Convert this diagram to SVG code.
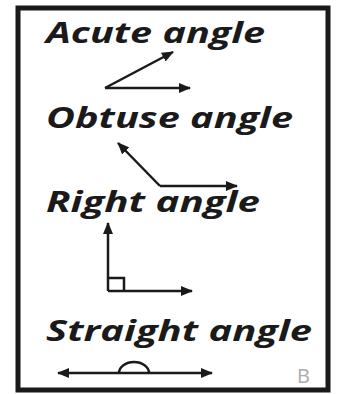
<svg xmlns="http://www.w3.org/2000/svg" width="338" height="394" viewBox="0 0 338 394">
<style>
.t{font-family:"Open Sans","Noto Sans",sans-serif;font-weight:bold;font-style:italic;font-size:28px;fill:#1a1a1a}
.l{stroke:#1a1a1a;stroke-width:2.5;fill:none}
</style>
<defs>
<marker id="ah" viewBox="0 0 12 10" refX="11" refY="5" markerWidth="12" markerHeight="10" markerUnits="userSpaceOnUse" orient="auto-start-reverse">
<path d="M0,0 L12,5 L0,10 Z" fill="#1a1a1a"/>
</marker>
</defs>
<rect x="0" y="0" width="338" height="394" fill="#fff"/>
<rect id="frame" x="18" y="8" width="310" height="382" fill="none" stroke="#1a1a1a" stroke-width="5"/>
<g id="acute">
<text class="t" x="46" y="43" textLength="219" lengthAdjust="spacingAndGlyphs">Acute angle</text>
</g>
<g id="obtuse">
<text class="t" x="46" y="128" textLength="247" lengthAdjust="spacingAndGlyphs">Obtuse angle</text>
</g>
<g id="right">
<text class="t" x="46" y="212" textLength="214" lengthAdjust="spacingAndGlyphs">Right angle</text>
<path class="l" d="M108,278 H124 V291" stroke-width="2"/>
</g>
<g id="straight">
<text class="t" x="46" y="341" textLength="266" lengthAdjust="spacingAndGlyphs">Straight angle</text>
<path class="l" d="M119,373 A15,11 0 0 1 149,373" stroke-width="2"/>
</g>
<text x="297" y="383" font-family="Open Sans, sans-serif" font-size="20" fill="#aaa">B</text>
<g id="connectors">
<path class="l" d="M105,88 L173,52" marker-end="url(#ah)"/>
<path class="l" d="M105,88 L190,88" marker-end="url(#ah)"/>
<path class="l" d="M160,186 L118,143" marker-end="url(#ah)"/>
<path class="l" d="M160,186 L237,186" marker-end="url(#ah)"/>
<path class="l" d="M108,291 L108,223" marker-end="url(#ah)"/>
<path class="l" d="M108,291 L192,291" marker-end="url(#ah)"/>
<path class="l" d="M58,373 L212,373" marker-start="url(#ah)" marker-end="url(#ah)"/>
</g>
</svg>
